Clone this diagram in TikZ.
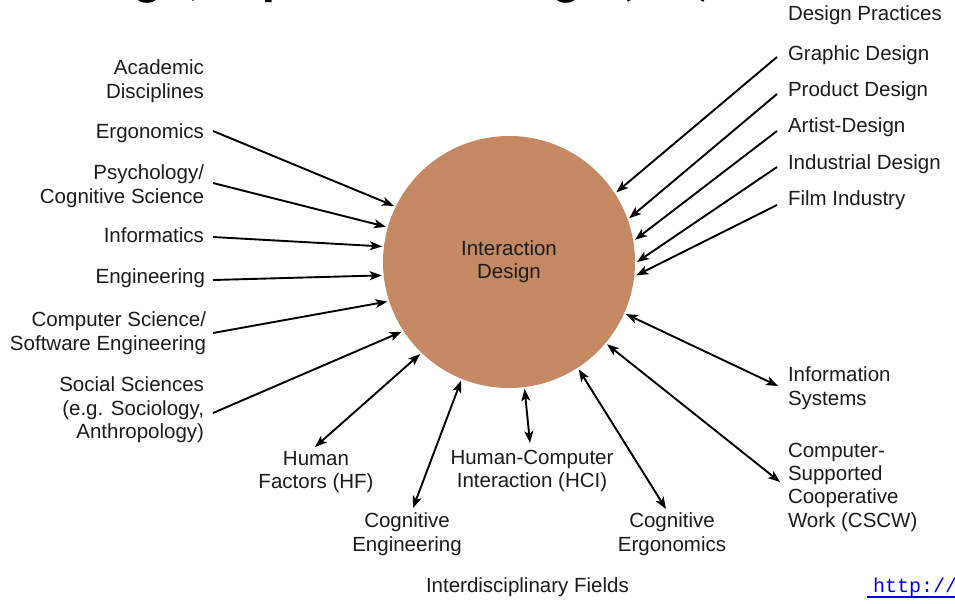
\documentclass[tikz,border=0pt]{standalone}
\usepackage{fontspec}
\setmainfont{Liberation Sans}
\newfontfamily\titlefont{Carlito}
\newfontfamily\urlfont{Liberation Mono}
\usetikzlibrary{arrows.meta}
\definecolor{idfill}{RGB}{196,137,99}
\definecolor{labelgray}{RGB}{28,28,28}
\definecolor{urlblue}{RGB}{0,0,238}

\begin{document}
\begin{tikzpicture}[x=1pt,y=-1pt,
  lbl/.style={font=\fontsize{20.5}{23.3}\selectfont, text=labelgray, inner sep=0pt, outer sep=0pt},
  lbl left/.style={lbl, align=right, anchor=north east},
  lbl right/.style={lbl, align=left, anchor=north west},
  lbl below/.style={lbl, align=center, anchor=north},
  tip/.tip={Stealth[length=12pt,width=9pt,inset=3pt]},
  link/.style={line width=1.9pt, -tip},
  dlink/.style={line width=1.9pt, tip-tip},
]
\useasboundingbox (0,0) rectangle (955,603);
\fill[white] (0,0) rectangle (955,603);

% heading, cut by the upper edge
\begin{scope}
  \clip (0,0) rectangle (955,603);
  \node[anchor=base west, inner sep=0pt, font=\titlefont\bfseries\fontsize{52}{60}\selectfont] (title) at (43,-5.5) {Design, Experience Design (UX)};
\end{scope}

% central field
\node[circle, fill=idfill, minimum size=252pt, inner sep=0pt, outer sep=2pt,
      font=\fontsize{20.5}{23.3}\selectfont, text=labelgray, align=center] (idc) at (509,262) {Interaction\\Design};

% academic disciplines (left)
\node[lbl left] (acad) at (204,60) {Academic\\Disciplines};
\node[lbl left] (ergo) at (204,124) {Ergonomics};
\node[lbl left] (psy)  at (204,165) {Psychology/\\Cognitive Science};
\node[lbl left] (info) at (204,228) {Informatics};
\node[lbl left] (engi) at (205,269) {Engineering};
\node[lbl left] (cs)   at (206,312) {Computer Science/\\Software Engineering};
\node[lbl left] (soc)  at (204,377) {Social Sciences\\(e.g. Sociology,\\Anthropology)};

% design practices (right)
\node[lbl right] (dp)    at (788,6)   {Design Practices};
\node[lbl right] (graph) at (788,46)  {Graphic Design};
\node[lbl right] (prod)  at (788,82)  {Product Design};
\node[lbl right] (art)   at (788,118) {Artist-Design};
\node[lbl right] (ind)   at (788,155) {Industrial Design};
\node[lbl right] (film)  at (788,191) {Film Industry};

% interdisciplinary fields
\node[lbl right] (infs) at (788,367) {Information\\Systems};
\node[lbl right] (cscw) at (788,443) {Computer-\\Supported\\Cooperative\\Work (CSCW)};
\node[lbl below] (hf)   at (316,451) {Human\\Factors (HF)};
\node[lbl below] (coge) at (407,513) {Cognitive\\Engineering};
\node[lbl below] (hci)  at (532,450) {Human-Computer\\Interaction (HCI)};
\node[lbl below] (cerg) at (672,513) {Cognitive\\Ergonomics};
\node[lbl, anchor=north west] (fields) at (426,578) {Interdisciplinary Fields};

% link end points beside the labels
\coordinate (e-ergo)  at (213,131);
\coordinate (e-psy)   at (213,183);
\coordinate (e-info)  at (213,237);
\coordinate (e-engi)  at (213,280);
\coordinate (e-cs)    at (213,333);
\coordinate (e-soc)   at (213,413);
\coordinate (e-hf)    at (315,447);
\coordinate (e-coge)  at (413,508);
\coordinate (e-hci)   at (530,443);
\coordinate (e-cerg)  at (666,509);
\coordinate (e-infs)  at (778,386);
\coordinate (e-cscw)  at (780,482);
\coordinate (e-graph) at (777,57);
\coordinate (e-prod)  at (777,94);
\coordinate (e-art)   at (777,131);
\coordinate (e-ind)   at (777,167);
\coordinate (e-film)  at (777,205);

% disciplines feeding in
\draw[link] (e-ergo) -- (idc.154.6);
\draw[link] (e-psy)  -- (idc.164.5);
\draw[link] (e-info) -- (idc.173.2);
\draw[link] (e-engi) -- (idc.186.3);
\draw[link] (e-cs)   -- (idc.198.7);
\draw[link] (e-soc)  -- (idc.213.6);

% design practices feeding in
\draw[link] (e-graph) -- (idc.33.1);
\draw[link] (e-prod)  -- (idc.20.1);
\draw[link] (e-art)   -- (idc.10.1);
\draw[link] (e-ind)   -- (idc.0.9);
\draw[link] (e-film)  -- (idc.-6.7);

% two-way exchange with interdisciplinary fields
\draw[dlink] (idc.226.6) -- (e-hf);
\draw[dlink] (idc.248.8) -- (e-coge);
\draw[dlink] (idc.277.6) -- (e-hci);
\draw[dlink] (idc.303.0) -- (e-cerg);
\draw[dlink] (idc.320.7) -- (e-cscw);
\draw[dlink] (idc.336.6) -- (e-infs);

% link at the lower right corner
\node[anchor=base west, inner sep=0pt, text=urlblue, font=\urlfont\fontsize{20}{24}\selectfont] (url) at (873,592) {http://};
\draw[urlblue, line width=2.4pt] (867,597) -- (955,597);
\end{tikzpicture}
\end{document}
